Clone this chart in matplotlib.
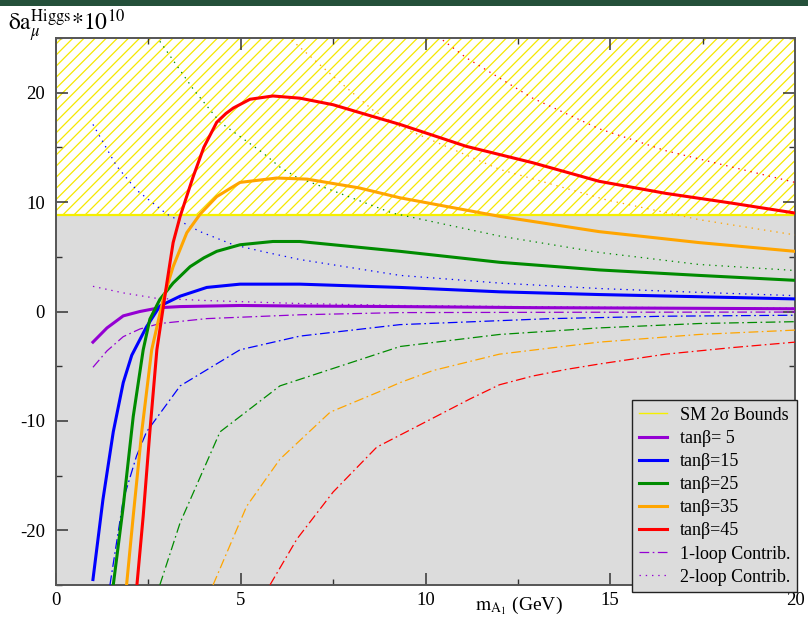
import numpy as np
import matplotlib
matplotlib.use('Agg')
import matplotlib.pyplot as plt
from matplotlib.lines import Line2D
from matplotlib.patches import Rectangle

plt.rcParams['font.family'] = ['Liberation Serif', 'DejaVu Serif']
plt.rcParams['mathtext.fontset'] = 'stix'
plt.rcParams['axes.unicode_minus'] = False
plt.rcParams['lines.scale_dashes'] = False
plt.rcParams['hatch.color'] = '#f5e800'
plt.rcParams['hatch.linewidth'] = 0.9

# SM 2 sigma upper bound on delta a_mu (x 10^10)
sm_bound = 8.8

# tan(beta) = 5
x_tb5 = [1.0, 1.38, 1.82, 2.27, 2.81, 3.36, 4.98, 6.6, 9.3, 13.0, 16.8, 20.0]
y_tb5 = [-2.8, -1.5, -0.4, 0.0, 0.35, 0.45, 0.55, 0.5, 0.45, 0.35, 0.3, 0.25]
x_tb5_1l = [1.0, 1.38, 1.82, 2.27, 2.81, 4.08, 6.6, 9.3, 14.0, 20.0]
y_tb5_1l = [-5.1, -3.6, -2.3, -1.6, -1.1, -0.65, -0.3, -0.1, -0.07, -0.05]
x_tb5_2l = [1.0, 1.82, 2.73, 4.08, 6.6, 9.3, 14.0, 20.0]
y_tb5_2l = [2.3, 1.7, 1.2, 1.0, 0.73, 0.55, 0.4, 0.3]

# tan(beta) = 15
x_tb15 = [1.0, 1.27, 1.55, 1.82, 2.05, 2.45, 2.81, 3.36, 4.08, 4.98, 6.6, 9.31, 12.0, 14.7, 17.4, 20.0]
y_tb15 = [-24.5, -17.2, -11.0, -6.5, -4.0, -1.4, 0.5, 1.4, 2.2, 2.5, 2.5, 2.2, 1.8, 1.55, 1.35, 1.15]
x_tb15_1l = [1.46, 1.82, 2.18, 2.45, 3.36, 4.98, 6.6, 9.31, 13.4, 16.5, 20.0]
y_tb15_1l = [-25.0, -17.2, -13.2, -11.0, -6.8, -3.5, -2.25, -1.2, -0.65, -0.43, -0.34]
x_tb15_2l = [1.0, 1.64, 2.18, 3.0, 3.9, 4.8, 5.7, 6.6, 9.31, 12.0, 14.7, 17.4, 20.0]
y_tb15_2l = [17.1, 13.3, 11.1, 8.9, 7.3, 6.1, 5.4, 4.75, 3.3, 2.6, 2.1, 1.75, 1.45]

# tan(beta) = 25
x_tb25 = [1.55, 1.82, 2.09, 2.36, 2.54, 2.81, 3.17, 3.63, 4.0, 4.35, 4.98, 5.87, 6.6, 9.31, 12.0, 14.7,
          17.4, 20.0]
y_tb25 = [-25.0, -17.8, -9.6, -3.5, -0.7, 1.1, 2.6, 4.1, 4.9, 5.5, 6.1, 6.4, 6.4, 5.5, 4.5, 3.8, 3.3, 2.85]
x_tb25_1l = [2.81, 3.36, 4.44, 6.06, 8.77, 9.31, 12.0, 14.7, 17.4, 20.0]
y_tb25_1l = [-25.0, -19.3, -11.0, -6.8, -3.8, -3.2, -2.1, -1.5, -1.1, -0.93]
x_tb25_2l = [2.81, 3.72, 4.44, 5.6, 6.06, 6.5, 9.1, 12.0, 14.7, 17.4, 20.0]
y_tb25_2l = [24.7, 20.3, 17.3, 14.5, 13.2, 12.3, 9.0, 6.9, 5.4, 4.3, 3.75]

# tan(beta) = 35
x_tb35 = [1.91, 2.09, 2.32, 2.59, 2.9, 3.17, 3.54, 3.9, 4.35, 4.98, 5.97, 6.8, 8.2, 9.3, 12.0, 14.7,
          17.4, 20.0]
y_tb35 = [-25.0, -18.7, -11.0, -3.5, 1.1, 4.1, 7.2, 8.9, 10.5, 11.8, 12.2, 12.1, 11.3, 10.4, 8.7, 7.3,
          6.3, 5.5]
x_tb35_1l = [4.25, 5.16, 6.06, 7.42, 8.77, 9.31, 10.2, 12.0, 14.7, 17.4, 20.0]
y_tb35_1l = [-25.0, -17.8, -13.5, -9.2, -7.3, -6.5, -5.4, -3.9, -2.8, -2.1, -1.7]
x_tb35_2l = [6.38, 7.5, 8.58, 9.31, 12.0, 14.9, 17.4, 20.0]
y_tb35_2l = [24.8, 21.5, 18.4, 16.9, 13.0, 10.2, 8.4, 7.0]

# tan(beta) = 45
x_tb45 = [2.19, 2.36, 2.54, 2.73, 3.0, 3.17, 3.36, 3.71, 4.0, 4.35, 4.6, 4.8, 5.25, 5.87, 6.6, 7.5,
          8.4, 9.31, 11.1, 12.9, 14.7, 16.5, 18.3, 20.0]
y_tb45 = [-25.0, -18.7, -11.0, -3.5, 2.6, 6.3, 8.7, 12.3, 15.0, 17.3, 18.1, 18.6, 19.4, 19.7, 19.5, 18.9,
          18.0, 17.1, 15.1, 13.6, 11.9, 10.8, 9.9, 9.0]
x_tb45_1l = [5.79, 6.52, 7.5, 8.68, 11.2, 12.0, 12.9, 13.8, 14.7, 16.5, 18.3, 20.0]
y_tb45_1l = [-25.0, -20.8, -16.5, -12.4, -8.0, -6.7, -5.9, -5.3, -4.8, -3.9, -3.3, -2.8]
x_tb45_2l = [10.47, 11.1, 12.9, 14.7, 16.5, 18.3, 20.0]
y_tb45_2l = [24.8, 23.2, 19.5, 16.7, 14.7, 13.2, 11.8]

labels = ['tan\u03b2= 5', 'tan\u03b2=15', 'tan\u03b2=25', 'tan\u03b2=35', 'tan\u03b2=45']
colors = ['#9400d3', '#0000ff', '#008b00', '#ffa500', '#ff0000']
totals = [(x_tb5, y_tb5), (x_tb15, y_tb15), (x_tb25, y_tb25), (x_tb35, y_tb35), (x_tb45, y_tb45)]
one_loop = [(x_tb5_1l, y_tb5_1l), (x_tb15_1l, y_tb15_1l), (x_tb25_1l, y_tb25_1l),
            (x_tb35_1l, y_tb35_1l), (x_tb45_1l, y_tb45_1l)]
two_loop = [(x_tb5_2l, y_tb5_2l), (x_tb15_2l, y_tb15_2l), (x_tb25_2l, y_tb25_2l),
            (x_tb35_2l, y_tb35_2l), (x_tb45_2l, y_tb45_2l)]

dashdot = (0, (7, 2.5, 1.2, 2.5))
dotted = (0, (1, 3.5))

fig = plt.figure(figsize=(8.08, 6.24), dpi=100)
ax = fig.add_axes([56 / 808, 39 / 624, 739 / 808, 547 / 624])
ax.set_facecolor('#dcdcdc')

# Excluded region above the SM 2 sigma bound
ax.axhspan(sm_bound, 25, facecolor='white', edgecolor='#f5e800', hatch='///', linewidth=0, zorder=1)
ax.axhline(sm_bound, color='#f5f000', lw=1.6, zorder=2)

for (xs, ys), c in zip(one_loop, colors):
    ax.plot(xs, ys, color=c, lw=0.9, linestyle=dashdot, zorder=3)
for (xs, ys), c in zip(two_loop, colors):
    ax.plot(xs, ys, color=c, lw=0.9, linestyle=dotted, zorder=3)
for (xs, ys), c in zip(totals, colors):
    ax.plot(xs, ys, color=c, lw=2.2, zorder=4, solid_joinstyle='round')

ax.set_xlim(0, 20)
ax.set_ylim(-25, 25)
ax.set_xticks([0, 5, 10, 15, 20])
ax.set_xticks(np.arange(2.5, 20, 5), minor=True)
ax.set_yticks([-20, -10, 0, 10, 20])
ax.set_yticks([-25, -15, -5, 5, 15, 25], minor=True)
ax.tick_params(which='both', direction='in', top=True, right=True, labelsize=13.5, color='#333333')
ax.tick_params(which='major', length=8.5, width=1.1)
ax.tick_params(which='minor', length=4.5, width=1.0)
ax.tick_params(axis='x', pad=5)
ax.tick_params(axis='y', pad=8)
for s in ax.spines.values():
    s.set_color('#555555')
    s.set_linewidth(1.4)

handles = [Line2D([], [], color='#f5f000', lw=1.0)]
handles += [Line2D([], [], color=c, lw=2.2) for c in colors]
handles += [Line2D([], [], color=colors[0], lw=0.9, linestyle=dashdot),
            Line2D([], [], color=colors[0], lw=0.9, linestyle=dotted)]
leg_labels = ['SM 2\u03c3 Bounds'] + labels + ['1-loop Contrib.', '2-loop Contrib.']
leg = ax.legend(handles, leg_labels, loc='lower right', bbox_to_anchor=(797 / 808, 32 / 624),
                bbox_transform=fig.transFigure, borderaxespad=0, fontsize=13, frameon=True,
                fancybox=False, framealpha=1, facecolor='#dcdcdc', edgecolor='#222222',
                handlelength=1.55, handletextpad=0.75, labelspacing=0.34, borderpad=0.35)
leg.get_frame().set_linewidth(1.0)
leg.set_zorder(10)

fig.text(8 / 808, 1 - 26 / 624, r'$\mathrm{\delta a}_{\mu}^{\mathrm{Higgs}}{*}\mathrm{10}^{\mathrm{10}}$',
         fontsize=17, ha='left', va='center')
fig.text(519 / 808, 1 - 606 / 624, r'$\mathrm{m}_{\mathrm{A}_{1}}$ (GeV)', fontsize=14,
         ha='center', va='center')

# dark banner strip at the top
fig.patches.append(Rectangle((0, 1 - 6 / 624), 1, 6 / 624, transform=fig.transFigure,
                             facecolor='#24503a', edgecolor='none'))

fig.savefig('out.png', dpi=100)
